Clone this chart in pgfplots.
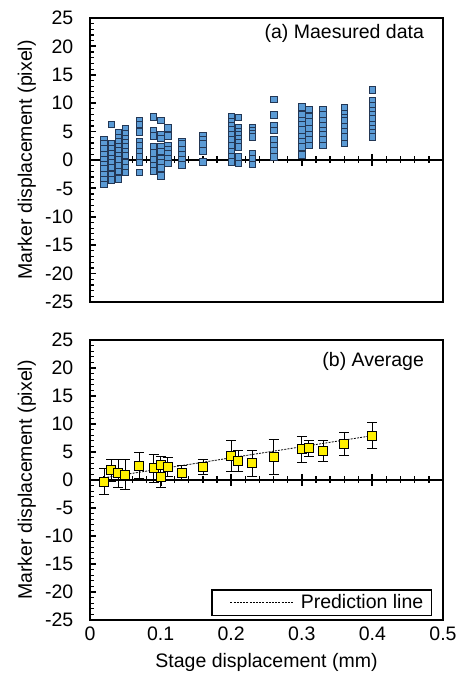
\documentclass[border=0pt]{standalone}
\usepackage{fontspec}
\setmainfont{Liberation Sans}
\usepackage{pgfplots}
\pgfplotsset{compat=1.18}
\definecolor{ptblue}{RGB}{91,155,213}
\definecolor{ptedge}{RGB}{35,55,85}
\definecolor{ptyellow}{RGB}{255,240,0}

\pgfplotsset{
  panel/.style={
    scale only axis, width=353pt,
    xmin=0, xmax=0.5, ymin=-25, ymax=25,
    axis line style={line width=1.6pt},
    ytick={-25,-20,...,25}, minor y tick num=4, ytick pos=left,
    tick align=inside, major tick length=6pt, minor tick length=4pt,
    major y tick style={line width=1.8pt, black},
    minor y tick style={line width=1.2pt, black},
    xtick={0,0.1,0.2,0.3,0.4,0.5}, major x tick style={draw=none},
    /pgf/number format/assume math mode=true,
    xticklabel style={/pgf/number format/fixed, /pgf/number format/precision=1},
    yticklabel style={xshift=-10pt},
    ylabel={Marker displacement (pixel)}, ylabel shift=-4pt,
    clip=false,
  },
}

\newcommand{\zeroline}{%
  \addplot[black, line width=1.6pt, forget plot] coordinates {(0,0) (0.5,0)};
  \addplot[only marks, mark=|, mark size=3.5pt, mark options={line width=1.3pt}, forget plot] coordinates {
    (0.02,0) (0.04,0) (0.06,0) (0.08,0) (0.12,0) (0.14,0) (0.16,0) (0.18,0)
    (0.22,0) (0.24,0) (0.26,0) (0.28,0) (0.32,0) (0.34,0) (0.36,0) (0.38,0)
    (0.42,0) (0.44,0) (0.46,0) (0.48,0)};
  \addplot[only marks, mark=|, mark size=6pt, mark options={line width=2pt}, forget plot] coordinates {
    (0,0) (0.1,0) (0.2,0) (0.3,0) (0.4,0) (0.5,0)};
}

\begin{document}
\fontsize{19.5}{23}\selectfont
\begin{tikzpicture}[font=\fontsize{19.5}{23}\selectfont]

% (a) measured data
\begin{axis}[panel, height=284pt, at={(0,318pt)}, anchor=south west,
    xticklabels={}]
\zeroline
\addplot[only marks, mark=square*, mark size=3.3pt,
    mark options={fill=ptblue, draw=ptedge, line width=0.7pt}] table {
x y
0.02 3.5
0.02 2.8
0.02 2.0
0.02 1.0
0.02 0.0
0.02 -0.8
0.02 -1.6
0.02 -2.5
0.02 -3.4
0.02 -4.3
0.03 6.3
0.03 2.8
0.03 2.0
0.03 1.2
0.03 0.2
0.03 -0.5
0.03 -1.3
0.03 -2.5
0.03 -3.5
0.04 4.8
0.04 3.9
0.04 3.2
0.04 2.4
0.04 1.6
0.04 0.8
0.04 0.0
0.04 -1.0
0.04 -2.0
0.04 -3.3
0.05 5.5
0.05 4.7
0.05 3.8
0.05 3.0
0.05 2.3
0.05 1.5
0.05 0.8
0.05 -0.4
0.05 -1.3
0.05 -2.2
0.07 7.0
0.07 6.3
0.07 5.0
0.07 3.3
0.07 2.6
0.07 1.5
0.07 0.6
0.07 -0.4
0.07 -2.2
0.09 7.6
0.09 5.1
0.09 4.2
0.09 2.3
0.09 1.3
0.09 0.0
0.09 -1.0
0.09 -1.9
0.10 7.0
0.10 4.4
0.10 3.8
0.10 2.3
0.10 1.5
0.10 0.3
0.10 -0.5
0.10 -1.4
0.10 -2.8
0.11 5.7
0.11 4.2
0.11 2.5
0.11 1.8
0.11 1.2
0.11 0.3
0.11 -0.6
0.13 3.3
0.13 2.8
0.13 1.8
0.13 0.9
0.13 0.1
0.13 -0.9
0.16 4.2
0.16 3.5
0.16 2.8
0.16 1.6
0.16 -0.3
0.20 7.7
0.20 6.7
0.20 6.0
0.20 5.3
0.20 4.4
0.20 3.5
0.20 2.6
0.20 1.5
0.20 0.6
0.20 -0.3
0.21 7.5
0.21 5.7
0.21 5.0
0.21 4.5
0.21 3.8
0.21 3.0
0.21 2.3
0.21 0.6
0.21 -0.6
0.23 5.7
0.23 5.1
0.23 4.6
0.23 4.1
0.23 1.2
0.23 0.2
0.23 -0.8
0.26 10.7
0.26 7.9
0.26 6.0
0.26 5.2
0.26 3.5
0.26 2.6
0.26 1.6
0.26 0.6
0.30 9.4
0.30 7.9
0.30 7.0
0.30 6.2
0.30 5.3
0.30 4.1
0.30 3.2
0.30 2.3
0.30 0.9
0.31 8.9
0.31 7.7
0.31 6.7
0.31 5.6
0.31 4.4
0.31 3.5
0.31 2.6
0.33 8.8
0.33 7.9
0.33 6.9
0.33 6.0
0.33 5.2
0.33 4.4
0.33 3.5
0.33 2.6
0.36 9.3
0.36 8.2
0.36 7.4
0.36 6.9
0.36 5.9
0.36 5.0
0.36 4.1
0.36 2.9
0.40 12.4
0.40 10.4
0.40 9.5
0.40 8.7
0.40 7.9
0.40 7.2
0.40 6.3
0.40 5.6
0.40 4.8
0.40 4.1
};
\node[anchor=east] at (rel axis cs:0.965,0.947) {(a) Maesured data};
\end{axis}

% (b) average
\begin{axis}[panel, height=280pt, at={(0,0)}, anchor=south west,
    xlabel={Stage displacement (mm)},
    legend style={at={(1,0)}, anchor=south east, xshift=-11pt, yshift=4pt,
      draw=black, line width=1.5pt, inner xsep=6pt, inner ysep=2pt},
    legend image code/.code={\path (0pt,0pt) (80pt,0pt); \draw[#1] (12pt,0pt) -- (75pt,0pt);}]
\zeroline
\addplot[black, line width=0.8pt, dash pattern=on 2pt off 1.2pt]
  coordinates {(0.02,0.40) (0.40,7.92)};
\addlegendentry{Prediction line}
\addplot[forget plot, only marks, mark=square*, mark size=4.5pt,
    mark options={fill=ptyellow, draw=black, line width=1pt},
    error bars/.cd, y dir=both, y explicit,
    error bar style={line width=0.9pt, black},
    error mark options={rotate=90, mark size=5pt, line width=0.9pt, black}]
  table[x=x, y=y, y error=e] {
x y e
0.02 -0.3 2.3
0.03 1.7 1.9
0.04 1.2 2.5
0.05 0.95 2.65
0.07 2.55 2.35
0.09 2.1 2.5
0.10 2.7 1.5
0.10 0.5 1.8
0.11 2.3 1.7
0.13 1.2 1.35
0.16 2.3 1.3
0.20 4.3 2.8
0.21 3.4 1.95
0.23 3.0 2.3
0.26 4.1 3.1
0.30 5.5 2.3
0.31 5.65 1.5
0.33 5.2 1.85
0.36 6.4 2.1
0.40 7.9 2.3
};
\node[anchor=east] at (rel axis cs:0.965,0.922) {(b) Average};
\end{axis}

\pgfresetboundingbox
\path (-90pt,-62pt) rectangle (372pt,620pt);
\end{tikzpicture}
\end{document}
